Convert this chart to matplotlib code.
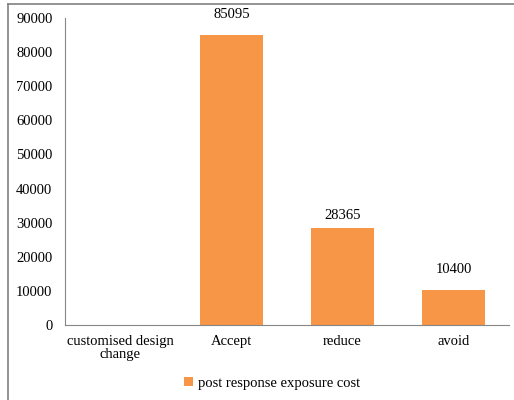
import matplotlib
matplotlib.use("Agg")
import matplotlib.pyplot as plt
from matplotlib.lines import Line2D
from matplotlib.patches import Patch

categories = ["customised design\nchange", "Accept", "reduce", "avoid"]
values = [0, 85095, 28365, 10400]
series_name = "post response exposure cost"
yticks = [0, 10000, 20000, 30000, 40000, 50000, 60000, 70000, 80000, 90000]

plt.rcParams['font.family'] = ['Liberation Serif', 'DejaVu Serif']
fs = 10.5

fig = plt.figure(figsize=(5.14, 4.0), dpi=100)
ax = fig.add_axes([65/514, 1-325/400, (509-65)/514, (325-18)/400])

x = list(range(len(categories)))
bars = ax.bar(x, values, width=0.57, color="#F79646")
label_offsets = [0, 10, 4.5, 9.5]
for xi, v, off in zip(x, values, label_offsets):
    if v > 0:
        ax.annotate(str(v), (xi, v), xytext=(0, off), textcoords="offset points",
                    ha="center", va="bottom", fontsize=fs)

ax.set_xlim(-0.5, len(categories) - 0.5)
ax.set_ylim(0, 90000)
ax.set_yticks(yticks)
ax.set_yticklabels([str(t) for t in yticks], fontsize=fs)
ax.set_xticks(x)
ax.set_xticklabels(categories, fontsize=fs, linespacing=1.0)
ax.tick_params(axis="x", length=0, pad=7)
ax.tick_params(axis="y", length=0, pad=9)
for s in ["top", "right"]:
    ax.spines[s].set_visible(False)
for s in ["left", "bottom"]:
    ax.spines[s].set_color("#868686")
    ax.spines[s].set_linewidth(0.8)

fig.legend(handles=[Patch(facecolor="#F79646", label=series_name)],
           loc="center", bbox_to_anchor=(272/514, 1-383/400), frameon=False,
           fontsize=fs, handlelength=0.6, handleheight=0.6, handletextpad=0.3)

fig.add_artist(Line2D([8/514, 8/514], [0, 1-4/400], color="#808080", lw=1.2, transform=fig.transFigure))
fig.add_artist(Line2D([8/514, 1], [1-4/400, 1-4/400], color="#808080", lw=1.2, transform=fig.transFigure))

fig.savefig("out.png", dpi=100)
